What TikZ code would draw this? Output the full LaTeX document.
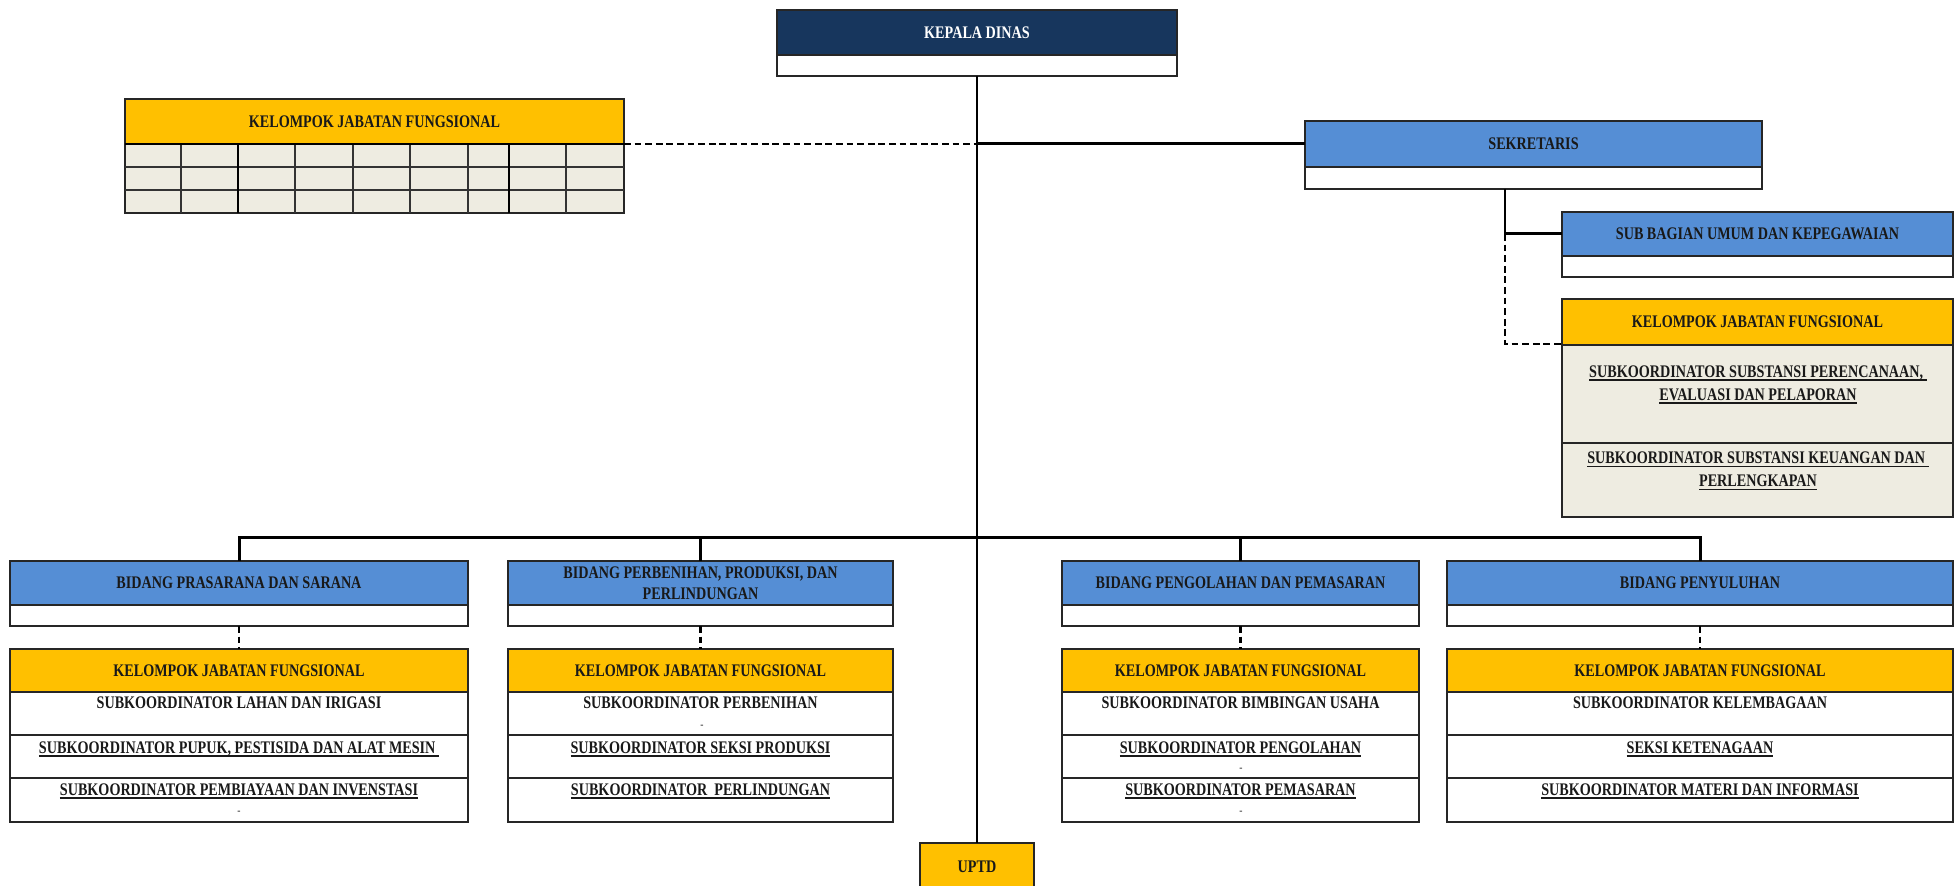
\documentclass[tikz,border=0pt]{standalone}
\usepackage{fontspec}
\setmainfont{Liberation Serif}[FakeStretch=0.8]
\definecolor{cnavy}{HTML}{17365D}
\definecolor{cblue}{HTML}{558ED5}
\definecolor{cyel}{HTML}{FFC000}
\definecolor{cbeige}{HTML}{EEECE1}
\newcommand\myfont{\fontsize{8.85}{10.5}\selectfont\bfseries}
\newcommand\myul[1]{\setbox0=\hbox{#1}\rlap{\rule[-1.8pt]{\wd0}{0.8pt}}\box0}
\newcommand\mybox[7]{\node[#6, anchor=north west, minimum width={(#4-#2)*0.5pt}, minimum height={(#5-#3)*0.5pt}] (#1) at (#2,#3) {#7};}
\tikzset{
  box/.style={draw=black!85, line width=0.9pt, inner sep=0pt, outer sep=0pt, font=\myfont, align=center, text=black!90},
  navybox/.style={box, fill=cnavy, text=white},
  bluebox/.style={box, fill=cblue},
  yelbox/.style={box, fill=cyel},
  whitebox/.style={box, fill=white, line width=0.7pt},
  beigebox/.style={box, fill=cbeige, line width=0.7pt},
  txt/.style={font=\myfont, inner sep=0pt, align=center, text=black!90},
  tick/.style={font=\fontsize{6}{6}\selectfont, inner sep=0pt, text=black!80},
  thinline/.style={draw=black, line width=1.1pt},
  thickline/.style={draw=black, line width=1.5pt},
  dashline/.style={draw=black, line width=1.4pt, dash pattern=on 3.4pt off 1.9pt},
  gridline/.style={draw=black!80, line width=0.6pt},
  gridthick/.style={draw=black, line width=1.2pt}
}
\begin{document}
\begin{tikzpicture}[x=0.5pt,y=-0.5pt]
\useasboundingbox[fill=white] (0,0) rectangle (1955,886);

% Kepala Dinas
\mybox{kd}{777}{10}{1177}{55}{navybox}{KEPALA DINAS}
\mybox{kdw}{777}{55}{1177}{76}{whitebox}{}

% Left functional group
\mybox{kjfL}{125}{99}{624}{144}{yelbox}{KELOMPOK JABATAN FUNGSIONAL}
\mybox{kjfLg}{125}{144}{624}{213}{beigebox}{}
\foreach \yy in {167,190} \draw[gridline] (125,\yy) -- (624,\yy);
\foreach \xx in {181,295,353,410,468,566} \draw[gridline] (\xx,144) -- (\xx,213);
\foreach \xx in {238,509} \draw[gridthick] (\xx,144) -- (\xx,213);
\draw[black, line width=1.2pt] (125,144) -- (624,144);

% Sekretaris
\mybox{sek}{1305}{121}{1762}{167}{bluebox}{SEKRETARIS}
\mybox{sekw}{1305}{167}{1762}{189}{whitebox}{}
\mybox{sub}{1562}{212}{1953}{256}{bluebox}{SUB BAGIAN UMUM DAN KEPEGAWAIAN}
\mybox{subw}{1562}{256}{1953}{277}{whitebox}{}
\mybox{kjfR}{1562}{299}{1953}{345}{yelbox}{KELOMPOK JABATAN FUNGSIONAL}
\mybox{kjfR1}{1562}{345}{1953}{443}{beigebox}{}
\mybox{kjfR2}{1562}{443}{1953}{517}{beigebox}{}
\node[txt, font=\fontsize{8.85}{11.5}\selectfont\bfseries] (kjfR1t) at (1758,384.5) {\myul{SUBKOORDINATOR SUBSTANSI PERENCANAAN, }\\\myul{EVALUASI DAN PELAPORAN}};
\node[txt, font=\fontsize{8.85}{11.5}\selectfont\bfseries] (kjfR2t) at (1758,471) {\myul{SUBKOORDINATOR SUBSTANSI KEUANGAN DAN }\\\myul{PERLENGKAPAN}};

% Bidang 1
\mybox{b1}{10}{561}{468}{605}{bluebox}{BIDANG PRASARANA DAN SARANA}
\mybox{b1w}{10}{605}{468}{626}{whitebox}{}
\mybox{k1}{10}{649}{468}{692}{yelbox}{KELOMPOK JABATAN FUNGSIONAL}
\mybox{k1a}{10}{692}{468}{735}{whitebox}{}
\mybox{k1b}{10}{735}{468}{778}{whitebox}{}
\mybox{k1c}{10}{778}{468}{822}{whitebox}{}
\node[txt] (k1at) at (239,703) {SUBKOORDINATOR LAHAN DAN IRIGASI};
\node[txt] (k1bt) at (239,749) {\myul{SUBKOORDINATOR PUPUK, PESTISIDA DAN ALAT MESIN }};
\node[txt] (k1ct) at (239,791) {\myul{SUBKOORDINATOR PEMBIAYAAN DAN INVENSTASI}};
\node[tick] (k1cd) at (239,813) {-};

% Bidang 2
\mybox{b2}{508}{561}{893}{605}{bluebox}{BIDANG PERBENIHAN, PRODUKSI, DAN\\PERLINDUNGAN}
\mybox{b2w}{508}{605}{893}{626}{whitebox}{}
\mybox{k2}{508}{649}{893}{692}{yelbox}{KELOMPOK JABATAN FUNGSIONAL}
\mybox{k2a}{508}{692}{893}{735}{whitebox}{}
\mybox{k2b}{508}{735}{893}{778}{whitebox}{}
\mybox{k2c}{508}{778}{893}{822}{whitebox}{}
\node[txt] (k2at) at (700.5,703) {SUBKOORDINATOR PERBENIHAN};
\node[tick] (k2ad) at (702,727) {-};
\node[txt] (k2bt) at (700.5,749) {\myul{SUBKOORDINATOR SEKSI PRODUKSI}};
\node[txt] (k2ct) at (700.5,791) {\myul{SUBKOORDINATOR\ \ PERLINDUNGAN}};

% Bidang 3
\mybox{b3}{1062}{561}{1419}{605}{bluebox}{BIDANG PENGOLAHAN DAN PEMASARAN}
\mybox{b3w}{1062}{605}{1419}{626}{whitebox}{}
\mybox{k3}{1062}{649}{1419}{692}{yelbox}{KELOMPOK JABATAN FUNGSIONAL}
\mybox{k3a}{1062}{692}{1419}{735}{whitebox}{}
\mybox{k3b}{1062}{735}{1419}{778}{whitebox}{}
\mybox{k3c}{1062}{778}{1419}{822}{whitebox}{}
\node[txt] (k3at) at (1240.5,703) {SUBKOORDINATOR BIMBINGAN USAHA};
\node[txt] (k3bt) at (1240.5,749) {\myul{SUBKOORDINATOR PENGOLAHAN}};
\node[tick] (k3bd) at (1241,770) {-};
\node[txt] (k3ct) at (1240.5,791) {\myul{SUBKOORDINATOR PEMASARAN}};
\node[tick] (k3cd) at (1241,813) {-};

% Bidang 4
\mybox{b4}{1447}{561}{1953}{605}{bluebox}{BIDANG PENYULUHAN}
\mybox{b4w}{1447}{605}{1953}{626}{whitebox}{}
\mybox{k4}{1447}{649}{1953}{692}{yelbox}{KELOMPOK JABATAN FUNGSIONAL}
\mybox{k4a}{1447}{692}{1953}{735}{whitebox}{}
\mybox{k4b}{1447}{735}{1953}{778}{whitebox}{}
\mybox{k4c}{1447}{778}{1953}{822}{whitebox}{}
\node[txt] (k4at) at (1700,703) {SUBKOORDINATOR KELEMBAGAAN};
\node[txt] (k4bt) at (1700,749) {\myul{SEKSI KETENAGAAN}};
\node[txt] (k4ct) at (1700,791) {\myul{SUBKOORDINATOR MATERI DAN INFORMASI}};

% UPTD
\mybox{uptd}{920}{843}{1034}{892}{yelbox}{}
\node[txt] (uptdt) at (977,867) {UPTD};

% Connectors
\draw[thinline] (kdw.south) -- (uptd.north);
\coordinate (cj) at (977,144);
\draw[dashline] (kjfLg.north east) -- (cj);
\draw[thickline] (cj) -- (sek.west);

\coordinate (sv) at (1505,189);
\coordinate (sj) at (1505,234);
\coordinate (sd) at (1505,344);
\draw[thinline] (sv) -- (sj);
\draw[thickline] (sj) -- (sub.west);
\draw[dashline] (sj) -- (sd) -- (sd -| kjfR.west);

\coordinate (bus1) at (239,538);
\coordinate (bus4) at (1700,538);
\draw[thickline] (b1.north) -- (bus1) -- (bus4) -- (b4.north);
\draw[thinline] (b2.north |- bus1) -- (b2.north);
\draw[thinline] (b3.north |- bus1) -- (b3.north);

\foreach \b/\k in {b1w/k1,b2w/k2,b3w/k3,b4w/k4}
  \draw[dashline] (\b.south) -- (\k.north);
\end{tikzpicture}
\end{document}
